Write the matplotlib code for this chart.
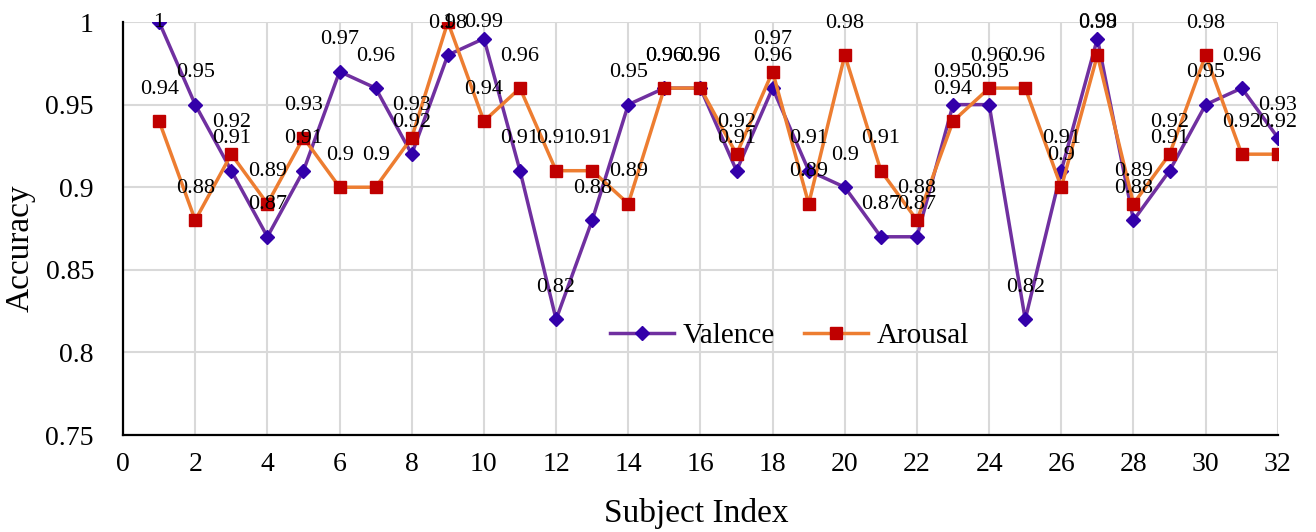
import matplotlib.pyplot as plt
from matplotlib.ticker import FuncFormatter

plt.rcParams['font.family'] = ['Liberation Serif', 'DejaVu Serif']

subjects = list(range(1, 33))
valence = [1.00, 0.95, 0.91, 0.87, 0.91, 0.97, 0.96, 0.92, 0.98, 0.99,
           0.91, 0.82, 0.88, 0.95, 0.96, 0.96, 0.91, 0.96, 0.91, 0.90,
           0.87, 0.87, 0.95, 0.95, 0.82, 0.91, 0.99, 0.88, 0.91, 0.95,
           0.96, 0.93]
arousal = [0.94, 0.88, 0.92, 0.89, 0.93, 0.90, 0.90, 0.93, 1.00, 0.94,
           0.96, 0.91, 0.91, 0.89, 0.96, 0.96, 0.92, 0.97, 0.89, 0.98,
           0.91, 0.88, 0.94, 0.96, 0.96, 0.90, 0.98, 0.89, 0.92, 0.98,
           0.92, 0.92]

fig = plt.figure(figsize=(13.16, 5.32), dpi=100)
ax = fig.add_axes([0.0935, 0.1823, 0.8775, 0.7763])

ax.plot(subjects, valence, color='#7030A0', linewidth=2.5, marker='D',
        markersize=7.5, markerfacecolor='#3300AA', markeredgecolor='#3300AA',
        label='Valence', zorder=3)
ax.plot(subjects, arousal, color='#ED7D31', linewidth=2.5, marker='s',
        markersize=9, markerfacecolor='#C00000', markeredgecolor='#C00000',
        label='Arousal', zorder=4)

# data labels above points, kept inside the plot area
off = 0.0194
for xs, ys in [(subjects, valence), (subjects, arousal)]:
    for x, y in zip(xs, ys):
        ax.text(x, min(y + off, 1.0), '%g' % y, ha='center', va='center',
                fontsize=16, zorder=5)

ax.set_xlim(0, 32)
ax.set_ylim(0.75, 1.0)
ax.set_xticks(range(0, 33, 2))
ax.set_yticks([0.75, 0.8, 0.85, 0.9, 0.95, 1.0])
ax.yaxis.set_major_formatter(FuncFormatter(lambda v, p: '%g' % round(v, 2)))
ax.grid(True, color='#D9D9D9', linewidth=1.5)
ax.set_axisbelow(True)
ax.tick_params(axis='both', length=0, labelsize=20)
ax.tick_params(axis='y', pad=21)
ax.tick_params(axis='x', pad=12)

for s in ['top', 'right']:
    ax.spines[s].set_visible(False)
for s in ['left', 'bottom']:
    ax.spines[s].set_linewidth(1.6)
    ax.spines[s].set_color('black')

ax.set_xlabel('Subject Index', fontsize=24)
ax.set_ylabel('Accuracy', fontsize=24)
ax.xaxis.set_label_coords(0.496, -0.153)
ax.yaxis.set_label_coords(-0.076, 0.453)

ax.legend(loc='center', bbox_to_anchor=(0.577, 0.24), ncol=2, frameon=False,
          fontsize=21, handlelength=2.2, handletextpad=0.3, columnspacing=1.0)

fig.savefig('out.png', dpi=100)
